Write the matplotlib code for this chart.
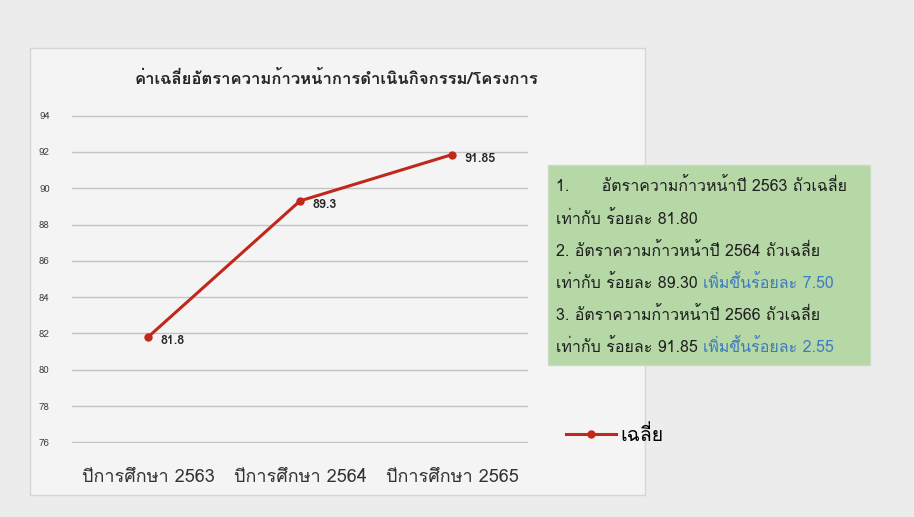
import matplotlib
matplotlib.use('Agg')
import matplotlib.pyplot as plt
from matplotlib import font_manager
from matplotlib.ft2font import FT2Font
from matplotlib.patches import Rectangle

# data
years = ['ปีการศึกษา 2563', 'ปีการศึกษา 2564', 'ปีการศึกษา 2565']
avg = [81.8, 89.3, 91.85]
avg_labels = ['81.8', '89.3', '91.85']
yticks = [76, 78, 80, 82, 84, 86, 88, 90, 92, 94]
title = 'ค่าเฉลี่ยอัตราความก้าวหน้าการดำเนินกิจกรรม/โครงการ'
series_name = 'เฉลี่ย'
note_black = ['1.      อัตราความก้าวหน้าปี 2563 ถัวเฉลี่ย',
              'เท่ากับ ร้อยละ 81.80',
              '2. อัตราความก้าวหน้าปี 2564 ถัวเฉลี่ย',
              'เท่ากับ ร้อยละ 89.30 ',
              '3. อัตราความก้าวหน้าปี 2566 ถัวเฉลี่ย',
              'เท่ากับ ร้อยละ 91.85 ']
note_blue = ['', '', '', 'เพิ่มขึ้นร้อยละ 7.50', '', 'เพิ่มขึ้นร้อยละ 2.55']


def thai_fonts():
    names = []
    for f in font_manager.fontManager.ttflist:
        try:
            if 0x0E01 in FT2Font(f.fname).get_charmap() and f.name not in names:
                names.append(f.name)
        except Exception:
            pass
    return names


fams = thai_fonts()
plt.rcParams['font.family'] = fams[:1] + ['DejaVu Sans']

W, H = 914, 517
fig = plt.figure(figsize=(W / 100, H / 100), dpi=100, facecolor='#ececec')

def fx(px):
    return px / W

def fy(py):
    return 1 - py / H

# chart frame (behind everything)
fig.patches.append(Rectangle((fx(30), fy(495)), fx(645) - fx(30), fy(48) - fy(495),
                             transform=fig.transFigure, facecolor='#f4f4f4',
                             edgecolor='#d6d6d6', lw=1, zorder=-2))

ax = fig.add_axes([fx(72), fy(443), fx(528) - fx(72), fy(115) - fy(443)])
ax.set_facecolor('none')
x = list(range(len(years)))
line, = ax.plot(x, avg, color='#c0281c', lw=2.2, marker='o', ms=5,
                label=series_name, zorder=3)
for xi, yi, lab in zip(x, avg, avg_labels):
    ax.annotate(lab, (xi, yi), xytext=(9, -3), textcoords='offset points',
                fontsize=9, fontweight='bold', color='#262626', va='center')

ax.set_xlim(-0.5, 2.5)
ax.set_ylim(75.97, 94.03)
ax.set_yticks(yticks)
ax.set_xticks(x)
ax.set_xticklabels(years, fontsize=13, color='#333333')
ax.tick_params(axis='y', labelsize=7, colors='#444444', length=0, pad=16)
ax.tick_params(axis='x', length=0, pad=18)
ax.grid(axis='y', color='#c4c4c4', lw=1)
ax.set_axisbelow(True)
for s in ax.spines.values():
    s.set_visible(False)

fig.text(fx(336), fy(78), title, ha='center', va='center', fontsize=12,
         fontweight='bold', color='#262626')

# green note box
fig.patches.append(Rectangle((fx(548), fy(365)), fx(870) - fx(548), fy(165) - fy(365),
                             transform=fig.transFigure, facecolor='#b6d7a6',
                             edgecolor='#c9dcc0', lw=1, zorder=-1))
overlay = fig.add_axes([0, 0, 1, 1], zorder=2)
overlay.set_axis_off()
overlay.set_xlim(0, 1)
overlay.set_ylim(0, 1)
for i, (tb, tl) in enumerate(zip(note_black, note_blue)):
    ypx = 187 + i * 32.2
    t = overlay.text(fx(556), fy(ypx), tb, fontsize=11.5, color='#1f1f1f',
                     va='center', ha='left')
    if tl:
        overlay.annotate(tl, xy=(1, 0), xycoords=t, va='bottom', ha='left',
                         fontsize=11.5, color='#3d7cc0')

fig.legend(handles=[line], loc='center left', bbox_to_anchor=(fx(548), fy(435)),
           frameon=False, fontsize=14, handlelength=2.6, handletextpad=0.2)

fig.savefig('out.png', dpi=100, facecolor=fig.get_facecolor())
